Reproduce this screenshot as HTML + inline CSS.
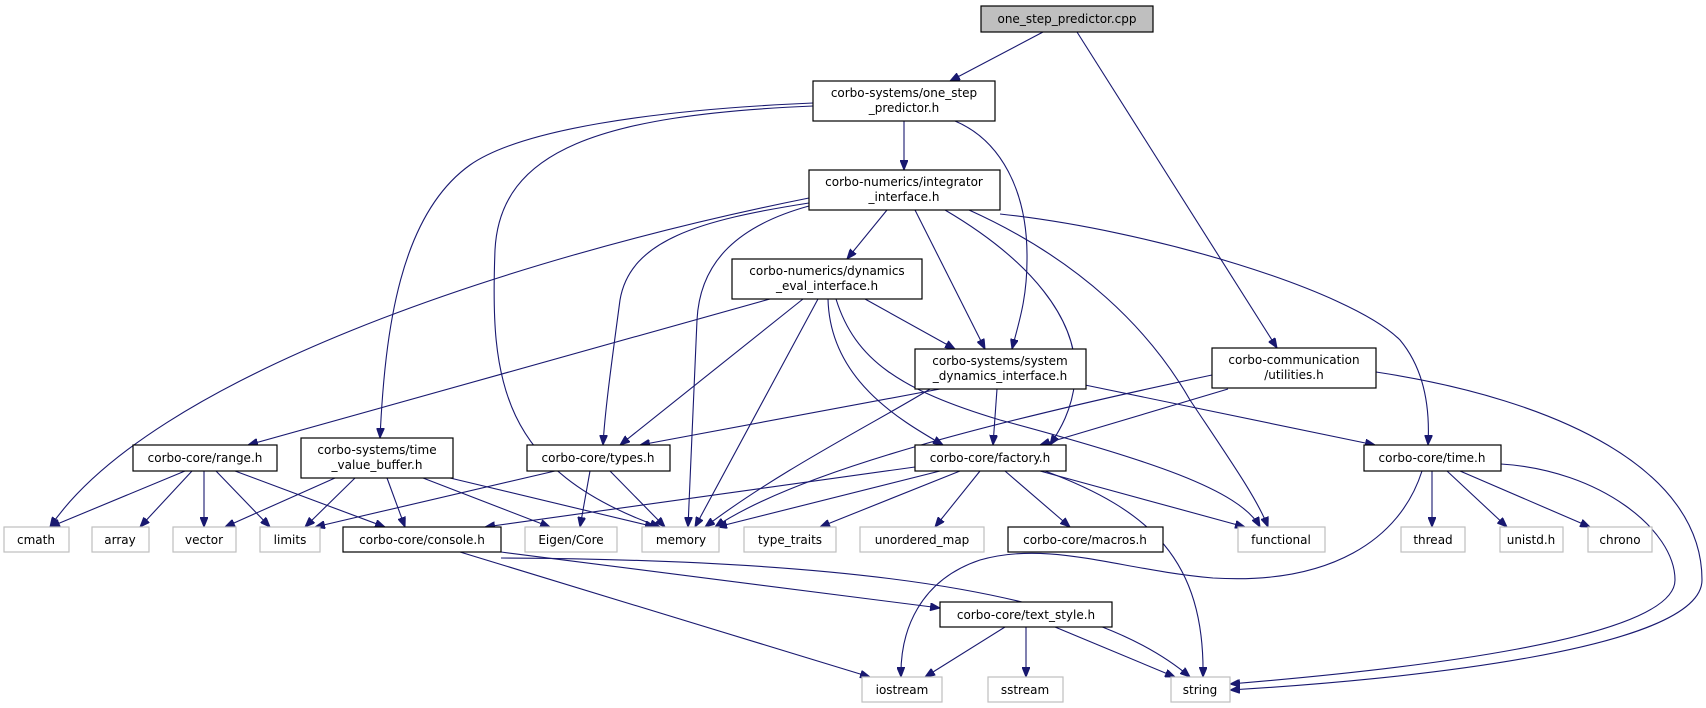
<!DOCTYPE html>
<html><head><meta charset="utf-8"><style>
html,body{margin:0;padding:0;background:#fff;}
svg{display:block;}
text{font-family:"DejaVu Sans","Liberation Sans",sans-serif;font-size:12px;fill:#000;}
.b{fill:#fff;stroke:#000;stroke-width:1.2;}
.g{fill:#fff;stroke:#bfbfbf;stroke-width:1.2;}
.e{fill:none;stroke:#191970;stroke-width:1.1;}
</style></head><body>
<svg width="1706" height="708" viewBox="0 0 1706 708" xmlns="http://www.w3.org/2000/svg">
<defs><marker id="a" viewBox="0 0 10 8" refX="10" refY="4" markerWidth="10" markerHeight="8" markerUnits="userSpaceOnUse" orient="auto"><path d="M0,0 L10,4 L0,8 z" fill="#191970" stroke="#191970"/></marker></defs>
<g class="e" marker-end="url(#a)">
<path d="M1043,32 L950,81"/>
<path d="M1077,32 L1277,348"/>
<path d="M904,121 L904,170"/>
<path d="M955,121 C1000,140 1028,190 1027,260 C1027,300 1018,325 1012,349"/>
<path d="M813,103 C650,110 520,130 470,165 C400,215 385,330 380,438"/>
<path d="M813,106 C600,115 500,150 495,250 C490,380 500,470 660,527"/>
<path d="M809,198 C500,260 150,380 50,527"/>
<path d="M809,203 C700,220 630,240 620,300 C612,360 605,410 603,445"/>
<path d="M809,206 C740,225 700,260 697,320 L688,527"/>
<path d="M887,210 L847,259"/>
<path d="M915,210 L985,349"/>
<path d="M945,210 C1030,260 1080,320 1075,380 C1072,410 1060,430 1050,445"/>
<path d="M969,210 C1080,260 1150,330 1190,400 C1230,460 1258,500 1268,527"/>
<path d="M1000,214 C1150,230 1350,290 1400,340 C1425,370 1430,410 1428,445"/>
<path d="M770,299 L248,445"/>
<path d="M803,299 L620,445"/>
<path d="M818,299 L695,527"/>
<path d="M828,299 C830,380 900,420 943,445"/>
<path d="M836,299 C855,360 900,390 1000,420 C1150,460 1240,490 1260,527"/>
<path d="M865,299 L955,349"/>
<path d="M940,389 L640,445"/>
<path d="M997,389 L993,445"/>
<path d="M930,389 C880,420 780,470 705,527"/>
<path d="M1085,385 L1375,445"/>
<path d="M1228,389 L1040,445"/>
<path d="M1212,375 C1000,420 800,470 715,527"/>
<path d="M1376,372 C1560,400 1702,470 1702,580 C1702,650 1400,680 1230,690"/>
<path d="M1501,464 C1600,470 1675,530 1675,580 C1675,640 1400,670 1230,684"/>
<path d="M1422,471 C1400,540 1330,585 1213,578 C1120,570 1050,540 980,560 C920,580 900,630 901,677"/>
<path d="M1432,471 L1432,527"/>
<path d="M1447,471 L1507,527"/>
<path d="M1460,471 L1590,527"/>
<path d="M915,467 L485,527"/>
<path d="M940,471 L717,527"/>
<path d="M960,471 L820,527"/>
<path d="M980,471 L935,527"/>
<path d="M1005,471 L1070,527"/>
<path d="M1040,471 L1245,527"/>
<path d="M1045,471 C1150,510 1205,560 1203,677"/>
<path d="M185,471 L50,527"/>
<path d="M192,471 L140,527"/>
<path d="M204,471 L204,527"/>
<path d="M216,471 L270,527"/>
<path d="M235,471 L385,527"/>
<path d="M335,478 L225,527"/>
<path d="M355,478 L305,527"/>
<path d="M387,478 L405,527"/>
<path d="M423,478 L550,527"/>
<path d="M450,478 L655,527"/>
<path d="M555,471 L315,527"/>
<path d="M590,471 L580,527"/>
<path d="M610,471 L665,527"/>
<path d="M460,552 L870,677"/>
<path d="M501,552 L940,608"/>
<path d="M501,558 C900,560 1100,600 1190,677"/>
<path d="M1005,627 L925,677"/>
<path d="M1026,627 L1026,677"/>
<path d="M1055,627 L1175,677"/>
</g>
<g text-anchor="middle">
<rect x="981" y="6" width="172" height="26" fill="#bfbfbf" stroke="#000" stroke-width="1.2"/><text x="1067" y="23">one_step_predictor.cpp</text>
<rect class="b" x="813" y="81" width="182" height="40"/><text x="904" y="97">corbo-systems/one_step</text><text x="904" y="112">_predictor.h</text>
<rect class="b" x="809" y="170" width="191" height="40"/><text x="904" y="186">corbo-numerics/integrator</text><text x="904" y="201">_interface.h</text>
<rect class="b" x="732" y="259" width="190" height="40"/><text x="827" y="275">corbo-numerics/dynamics</text><text x="827" y="290">_eval_interface.h</text>
<rect class="b" x="915" y="349" width="171" height="40"/><text x="1000" y="365">corbo-systems/system</text><text x="1000" y="380">_dynamics_interface.h</text>
<rect class="b" x="1212" y="348" width="164" height="40"/><text x="1294" y="364">corbo-communication</text><text x="1294" y="379">/utilities.h</text>
<rect class="b" x="133" y="445" width="144" height="26"/><text x="205" y="462">corbo-core/range.h</text>
<rect class="b" x="301" y="438" width="152" height="40"/><text x="377" y="454">corbo-systems/time</text><text x="377" y="469">_value_buffer.h</text>
<rect class="b" x="527" y="445" width="143" height="26"/><text x="598" y="462">corbo-core/types.h</text>
<rect class="b" x="915" y="445" width="151" height="26"/><text x="990" y="462">corbo-core/factory.h</text>
<rect class="b" x="1364" y="445" width="137" height="26"/><text x="1432" y="462">corbo-core/time.h</text>
<rect class="g" x="4" y="527" width="65" height="25"/><text x="36" y="544">cmath</text>
<rect class="g" x="92" y="527" width="57" height="25"/><text x="120" y="544">array</text>
<rect class="g" x="173" y="527" width="63" height="25"/><text x="204" y="544">vector</text>
<rect class="g" x="260" y="527" width="60" height="25"/><text x="290" y="544">limits</text>
<rect class="b" x="343" y="527" width="158" height="25"/><text x="422" y="544">corbo-core/console.h</text>
<rect class="g" x="525" y="527" width="92" height="25"/><text x="571" y="544">Eigen/Core</text>
<rect class="g" x="642" y="527" width="77" height="25"/><text x="681" y="544">memory</text>
<rect class="g" x="744" y="527" width="92" height="25"/><text x="790" y="544">type_traits</text>
<rect class="g" x="860" y="527" width="124" height="25"/><text x="922" y="544">unordered_map</text>
<rect class="b" x="1008" y="527" width="155" height="25"/><text x="1085" y="544">corbo-core/macros.h</text>
<rect class="g" x="1238" y="527" width="87" height="25"/><text x="1281" y="544">functional</text>
<rect class="g" x="1401" y="527" width="64" height="25"/><text x="1433" y="544">thread</text>
<rect class="g" x="1500" y="527" width="63" height="25"/><text x="1531" y="544">unistd.h</text>
<rect class="g" x="1588" y="527" width="64" height="25"/><text x="1620" y="544">chrono</text>
<rect class="b" x="940" y="602" width="172" height="25"/><text x="1026" y="619">corbo-core/text_style.h</text>
<rect class="g" x="862" y="677" width="80" height="25"/><text x="902" y="694">iostream</text>
<rect class="g" x="988" y="677" width="75" height="25"/><text x="1025" y="694">sstream</text>
<rect class="g" x="1171" y="677" width="59" height="25"/><text x="1200" y="694">string</text>
</g>
</svg>
</body></html>
